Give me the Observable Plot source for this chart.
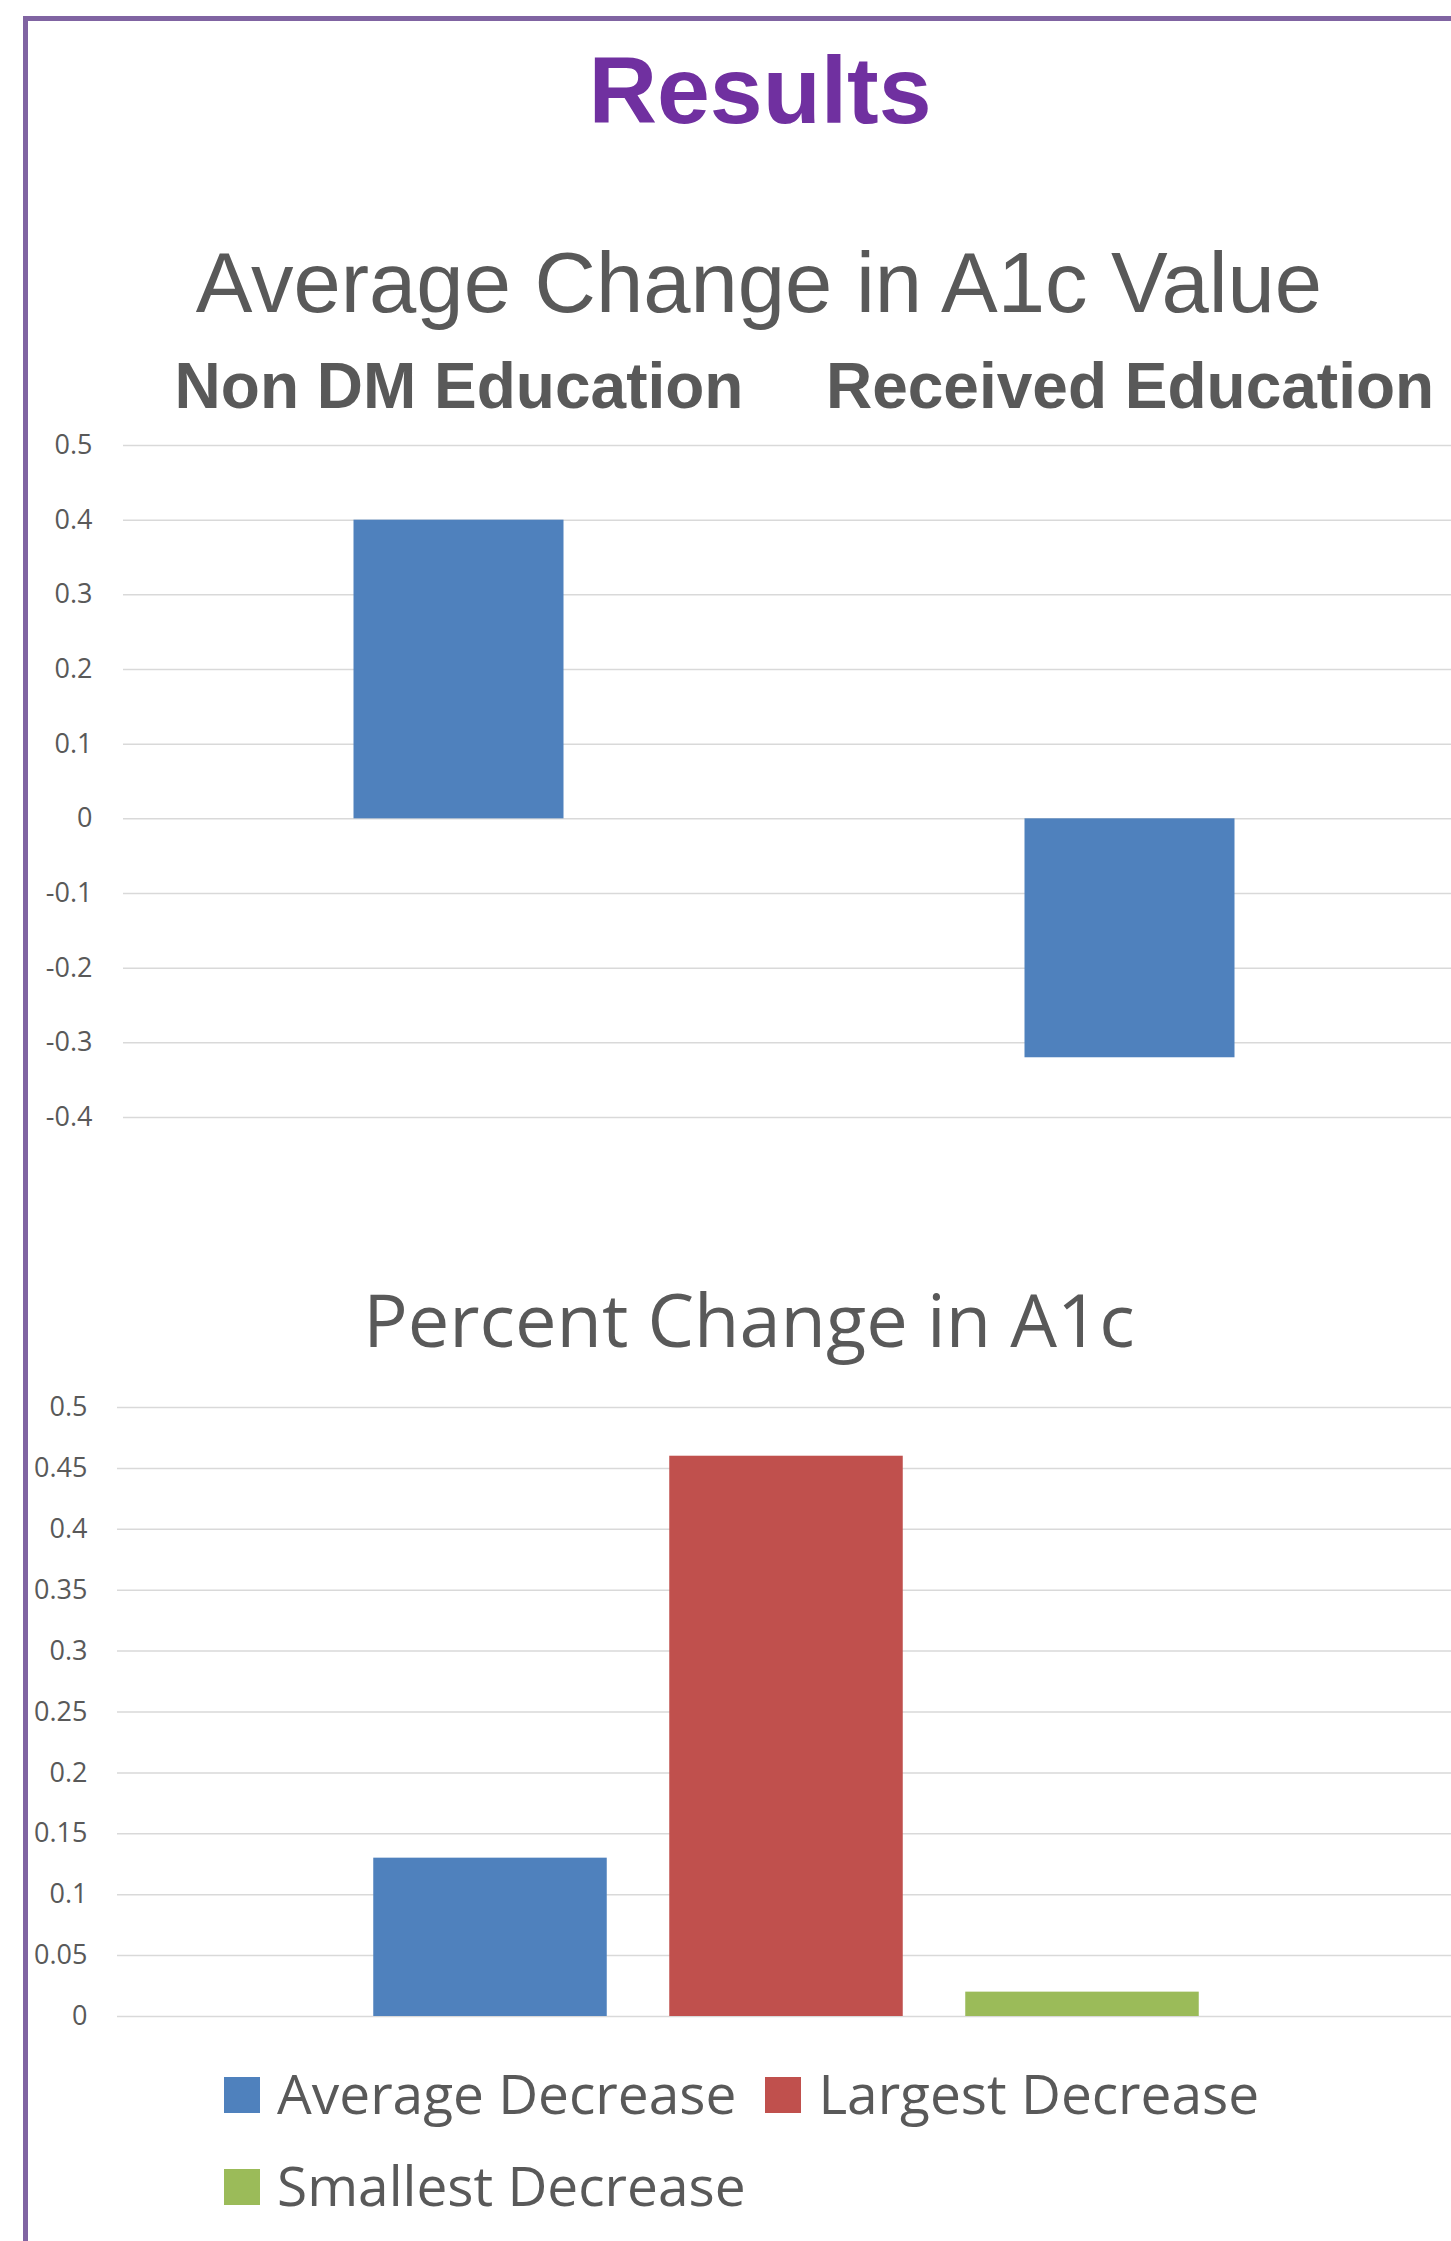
<!DOCTYPE html>
<html>
<head>
<meta charset="utf-8">
<script src="https://cdn.jsdelivr.net/npm/d3@7"></script>
<script src="https://cdn.jsdelivr.net/npm/@observablehq/plot@0.6"></script>
<style>
  html, body { margin: 0; padding: 0; overflow: hidden; background: #fff; }
  #page { position: relative; width: 1451px; height: 2241px; overflow: hidden; background: #fff; }
  #frame { position: absolute; left: 23px; top: 16px; width: 1500px; height: 2300px;
           border-left: 5px solid #8064a2; border-top: 5px solid #8064a2; box-sizing: border-box;
           pointer-events: none; z-index: 5; }
  .t { position: absolute; white-space: nowrap; line-height: 1; transform: translateX(-50%); }
  #main { font-family: "Liberation Sans", Arial, sans-serif; font-weight: bold; font-size: 95px;
          color: #7030a0; left: 760px; top: 43px; }
  #title1 { font-family: "Liberation Sans", Arial, sans-serif; font-size: 85px; color: #595959;
            left: 759px; top: 240px; }
  #title2 { font-family: "Open Sans", sans-serif; font-size: 74px; color: #595959;
            left: 749px; top: 1282px; }
  .chart { position: absolute; left: 0; }
  #chart1 { top: 330px; }
  #chart2 { top: 1370px; }
  #legend { position: absolute; left: 224px; top: 2065px; width: 1150px; display: flex; flex-wrap: wrap;
            column-gap: 29px; row-gap: 36px; font-family: "Open Sans", sans-serif; font-size: 55px;
            line-height: 56px; color: #595959; }
  .item { display: flex; align-items: center; white-space: nowrap; }
  .sw { width: 36px; height: 36px; margin-right: 17px; margin-top: 4px; flex: none; }
</style>
</head>
<body>
<div id="page">
  <div id="main" class="t">Results</div>
  <div id="title1" class="t">Average Change in A1c Value</div>
  <div id="chart1" class="chart"></div>
  <div id="title2" class="t">Percent Change in A1c</div>
  <div id="chart2" class="chart"></div>
  <div id="legend"></div>
  <div id="frame"></div>
</div>
<script>
// ---- Data: top chart (Average Change in A1c Value)
const topCategories = ["Non DM Education", "Received Education"];
const topValues = [0.4, -0.32];
const topTicks = [0.5, 0.4, 0.3, 0.2, 0.1, 0, -0.1, -0.2, -0.3, -0.4];
const topTickLabels = ["0.5", "0.4", "0.3", "0.2", "0.1", "0", "-0.1", "-0.2", "-0.3", "-0.4"];

// ---- Data: bottom chart (Percent Change in A1c)
const bottomSeries = ["Average Decrease", "Largest Decrease", "Smallest Decrease"];
const bottomValues = [0.13, 0.46, 0.02];
const bottomColors = ["#4f81bd", "#c0504d", "#9bbb59"];
const bottomTicks = [0.5, 0.45, 0.4, 0.35, 0.3, 0.25, 0.2, 0.15, 0.1, 0.05, 0];
const bottomTickLabels = ["0.5", "0.45", "0.4", "0.35", "0.3", "0.25", "0.2", "0.15", "0.1", "0.05", "0"];

const textColor = "#595959";
const gridColor = "#d9d9d9";

const data1 = topCategories.map((c, i) => ({category: c, value: topValues[i]}));
const chart1 = Plot.plot({
  width: 1451, height: 820,
  marginTop: 115, marginBottom: 33, marginLeft: 123, marginRight: 0,
  style: {background: "transparent", fontFamily: "'Open Sans', sans-serif", color: textColor, overflow: "visible"},
  x: {type: "band", domain: topCategories, range: [122.5, 1464.5], padding: 0, label: null},
  y: {domain: [-0.4, 0.5], label: null},
  marks: [
    Plot.ruleY(topTicks, {stroke: gridColor, strokeWidth: 1.5}),
    Plot.barY(data1, {x: "category", y: "value", fill: "#4f81bd", insetLeft: 230.5, insetRight: 230.5}),
    Plot.axisY({ticks: topTicks, tickSize: 0, tickPadding: 31, fontSize: 27, label: null,
                tickFormat: d => topTickLabels[topTicks.indexOf(d)]}),
    Plot.axisX({anchor: "top", tickSize: 0, tickPadding: 38, fontSize: 64, fontWeight: "bold", label: null,
                fontFamily: "'Liberation Sans', Arial, sans-serif"})
  ]
});
document.getElementById("chart1").append(chart1);

const data2 = bottomSeries.map((s, i) => ({series: s, value: bottomValues[i]}));
const chart2 = Plot.plot({
  width: 1451, height: 680,
  marginTop: 37, marginBottom: 34, marginLeft: 117, marginRight: 0,
  style: {background: "transparent", fontFamily: "'Open Sans', sans-serif", color: textColor, overflow: "visible"},
  x: {type: "band", domain: bottomSeries, range: [340.75, 1230.25], padding: 0, axis: null},
  y: {domain: [0, 0.5], label: null},
  color: {domain: bottomSeries, range: bottomColors},
  marks: [
    Plot.ruleY(bottomTicks, {stroke: gridColor, strokeWidth: 1.5}),
    Plot.barY(data2, {x: "series", y: "value", fill: "series", insetLeft: 31.25, insetRight: 31.25}),
    Plot.axisY({ticks: bottomTicks, tickSize: 0, tickPadding: 30, fontSize: 27, label: null,
                tickFormat: d => bottomTickLabels[bottomTicks.indexOf(d)]})
  ]
});
document.getElementById("chart2").append(chart2);

// Legend built from the same series arrays
const legend = document.getElementById("legend");
bottomSeries.forEach((s, i) => {
  const item = document.createElement("div");
  item.className = "item";
  const sw = document.createElement("span");
  sw.className = "sw";
  sw.style.background = bottomColors[i];
  const label = document.createElement("span");
  label.textContent = s;
  item.append(sw, label);
  legend.append(item);
});
</script>
</body>
</html>
